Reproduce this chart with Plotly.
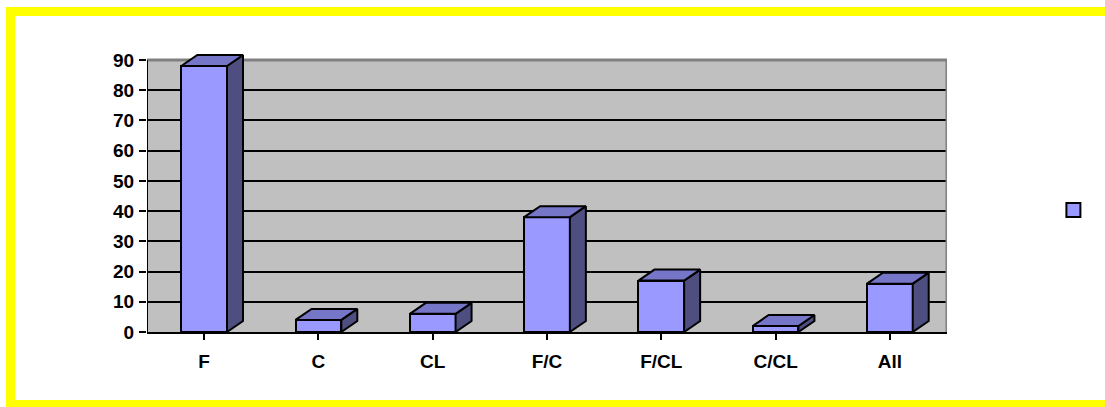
import plotly.graph_objects as go

categories = ["F", "C", "CL", "F/C", "F/CL", "C/CL", "All"]
values = [88, 4, 6, 38, 17, 2, 16]
y_ticks = [0, 10, 20, 30, 40, 50, 60, 70, 80, 90]

FRONT = "#9999FF"
TOP = "#7676C8"
SIDE = "#4E4E80"
WALL = "#C0C0C0"
FONT = dict(family="Arial, Liberation Sans, sans-serif", size=19, color="black")

W, H = 1105, 407
L, R, B = 147, 158, 75
plot_w = W - L - R
px_per_unit = 272 / 90
T = 45
plot_h = H - T - B
y_top = plot_h / px_per_unit

bar_w = 0.4
dx = 16 / (plot_w / len(categories))
dy = 11 / px_per_unit

fig = go.Figure()
fig.add_trace(go.Bar(
    x=list(range(len(categories))), y=values, width=bar_w,
    marker=dict(color=FRONT, line=dict(color="black", width=2)),
    name="", showlegend=False, hoverinfo="skip",
))

for i, v in enumerate(values):
    xl, xr = i - bar_w / 2, i + bar_w / 2
    fig.add_trace(go.Scatter(
        x=[xr, xr + dx, xr + dx, xr, xr],
        y=[0, dy, v + dy, v, 0],
        mode="lines", fill="toself", fillcolor=SIDE,
        line=dict(color="black", width=2), showlegend=False,
        hoverinfo="skip", cliponaxis=False,
    ))
    fig.add_trace(go.Scatter(
        x=[xl, xl + dx, xr + dx, xr, xl],
        y=[v, v + dy, v + dy, v, v],
        mode="lines", fill="toself", fillcolor=TOP,
        line=dict(color="black", width=2), showlegend=False,
        hoverinfo="skip", cliponaxis=False,
    ))

fig.add_trace(go.Scatter(
    x=[None], y=[None], mode="markers", name="",
    marker=dict(symbol="square", size=14, color=FRONT, line=dict(color="black", width=2)),
    showlegend=True, hoverinfo="skip",
))

xmin, xmax = -0.5, len(categories) - 0.5
bottom = H - B
yellow = dict(color="#FFFF00", width=9)
pix = dict(xref="paper", yref="paper", xsizemode="pixel", ysizemode="pixel",
           xanchor=0, yanchor=0, layer="above")
shapes = [
    dict(type="rect", xref="x", yref="y", x0=xmin, x1=xmax, y0=0, y1=90,
         fillcolor=WALL, line=dict(width=0), layer="below"),
    dict(type="line", xref="x", yref="y", x0=xmin, x1=xmax, y0=90, y1=90,
         line=dict(color="#808080", width=3), layer="between"),
    dict(type="line", xref="x", yref="y", x0=xmax, x1=xmax, y0=0, y1=90,
         line=dict(color="#808080", width=3), layer="between"),
    dict(type="line", xref="x", yref="y", x0=xmin, x1=xmin, y0=0, y1=90,
         line=dict(color="black", width=2), layer="above"),
    dict(type="line", x0=6 - L, x1=W - L, y0=bottom - 11.5, y1=bottom - 11.5,
         line=yellow, **pix),
    dict(type="line", x0=6 - L, x1=W - L, y0=bottom - 404.5, y1=bottom - 404.5,
         line=yellow, **pix),
    dict(type="line", x0=10.5 - L, x1=10.5 - L, y0=bottom - H, y1=bottom - 7,
         line=yellow, **pix),
]

fig.update_layout(
    width=W, height=H,
    font=FONT,
    margin=dict(l=L, r=R, t=T, b=B, autoexpand=False),
    paper_bgcolor="white", plot_bgcolor="white",
    shapes=shapes,
    bargap=0,
    legend=dict(x=1.133, y=0.425, xanchor="left", yanchor="middle",
                bgcolor="rgba(0,0,0,0)"),
    xaxis=dict(
        range=[xmin, xmax], tickmode="array",
        tickvals=list(range(len(categories))),
        ticktext=["<b>%s</b>" % c for c in categories],
        tickson="boundaries", ticks="outside", ticklen=6, tickwidth=2, tickcolor="black",
        showline=True, linecolor="black", linewidth=2, showgrid=False, zeroline=False,
        tickfont=FONT, ticklabelstandoff=5,
    ),
    yaxis=dict(
        range=[0, y_top], tickmode="array", tickvals=y_ticks,
        ticktext=["<b>%d</b>" % t for t in y_ticks],
        ticks="outside", ticklen=7, tickwidth=2, tickcolor="black",
        showline=False, showgrid=True, gridcolor="black", gridwidth=2,
        zeroline=False, tickfont=FONT, ticklabelstandoff=1,
    ),
)

fig.write_html("out.html")
